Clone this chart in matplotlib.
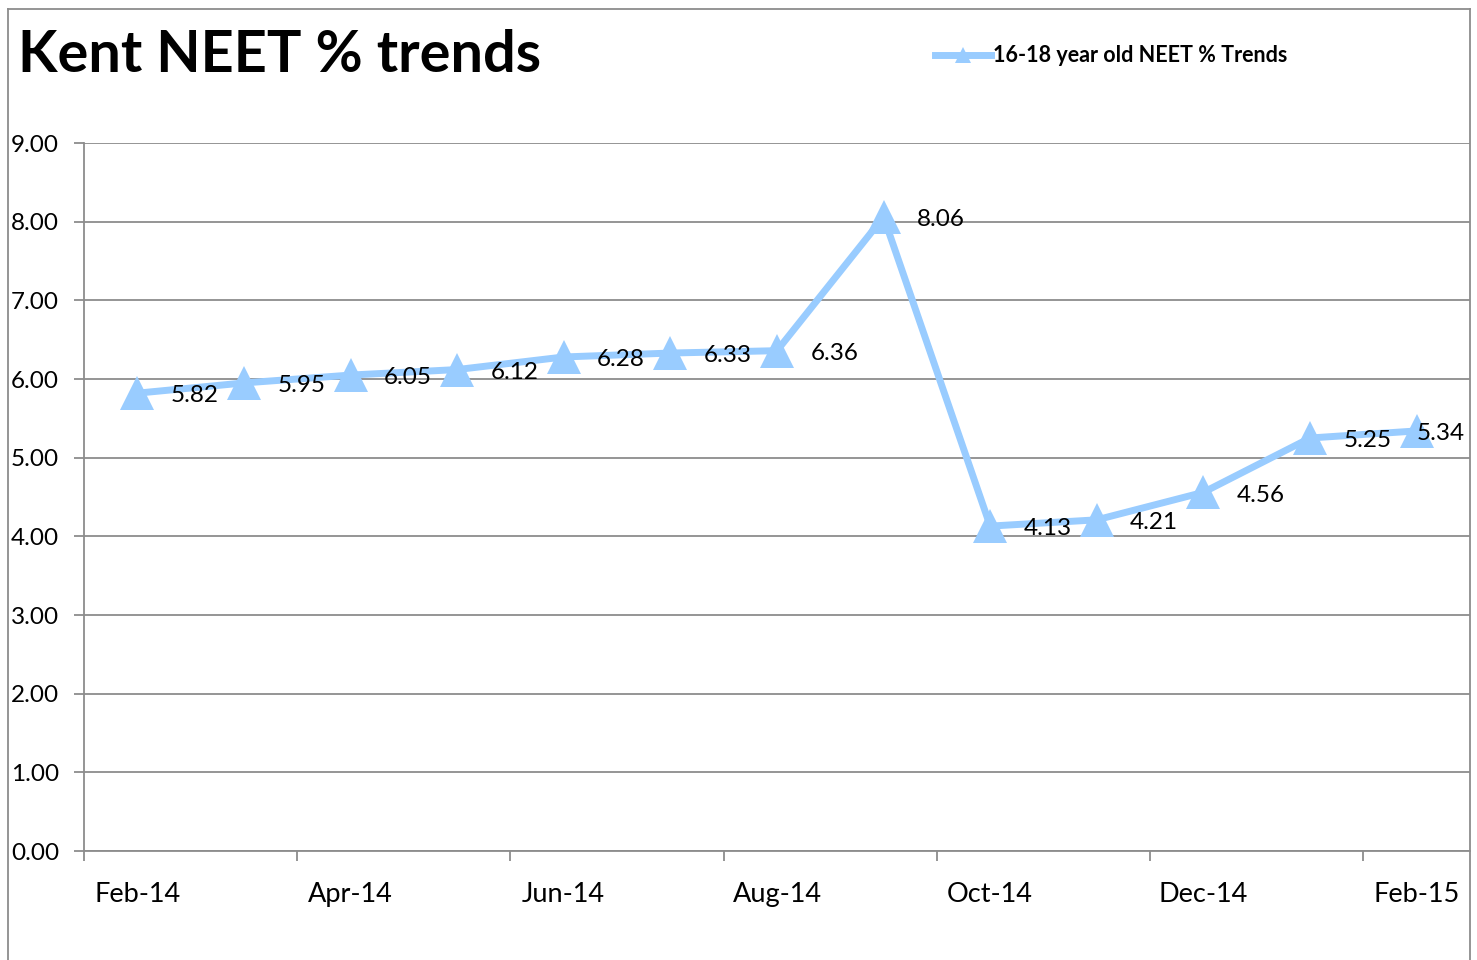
import matplotlib
matplotlib.use("Agg")
import matplotlib.pyplot as plt
from matplotlib.lines import Line2D

months = ["Feb-14", "Mar-14", "Apr-14", "May-14", "Jun-14", "Jul-14", "Aug-14",
          "Sep-14", "Oct-14", "Nov-14", "Dec-14", "Jan-15", "Feb-15"]
values = [5.82, 5.95, 6.05, 6.12, 6.28, 6.33, 6.36, 8.06, 4.13, 4.21, 4.56, 5.25, 5.34]
series_name = "16-18 year old NEET % Trends"
title = "Kent NEET % trends"
yticks = [0, 1, 2, 3, 4, 5, 6, 7, 8, 9]

plt.rcParams['font.family'] = ['Lato', 'DejaVu Sans']
W, H = 1477, 960
fig = plt.figure(figsize=(W / 100, H / 100), dpi=100)
ax = fig.add_axes([84 / W, (H - 851) / H, (1470 - 84) / W, (851 - 143) / H])

color = "#99CCFF"
x = list(range(len(months)))
ax.plot(x, values, color=color, lw=5, marker="^", markersize=24,
        markeredgewidth=0, solid_capstyle="round", label=series_name, zorder=3)

for i, v in enumerate(values):
    off = 24 if i < len(values) - 1 else 0
    ax.annotate(f"{v:.2f}", (i, v), xytext=(off, -2), textcoords="offset points",
                ha="left", va="center", fontsize=17.5, color="black", zorder=4)

ax.set_xlim(-0.5, len(months) - 0.5)
ax.set_ylim(0, 9)
ax.set_yticks(yticks)
ax.set_yticklabels([f"{t:.2f}" for t in yticks], fontsize=17.5)
ax.yaxis.grid(True, color="#8c8c8c", lw=1.3)
ax.set_axisbelow(True)

major = [i - 0.5 for i in range(0, len(months), 2)]
ax.set_xticks(major)
ax.set_xticklabels([])
ax.set_xticks(list(range(0, len(months), 2)), minor=True)
ax.set_xticklabels([months[i] for i in range(0, len(months), 2)], minor=True, fontsize=19.5)
ax.tick_params(axis="x", which="minor", length=0, pad=22.5)
ax.tick_params(axis="x", which="major", length=7, width=1.3, color="#8c8c8c", direction="out")
ax.tick_params(axis="y", length=7, width=1.3, color="#8c8c8c", pad=11)

for s in ["top", "right"]:
    ax.spines[s].set_visible(False)
for s in ["left", "bottom"]:
    ax.spines[s].set_color("#8c8c8c")
    ax.spines[s].set_linewidth(1.3)

fig.text(18 / W, 1 - 56 / H, title, fontsize=41.5, fontweight="bold", va="center", ha="left")

handle = Line2D([], [], color=color, lw=5, marker="^", markersize=11, markeredgewidth=0)
fig.legend([handle], [series_name], loc="center left",
           bbox_to_anchor=(916 / W, 1 - 56 / H), frameon=False,
           handlelength=2.6, handletextpad=0.1, prop={"size": 15.5, "weight": "bold"})

frame_col = "#8c8c8c"
fig.add_artist(Line2D([8 / W, 8 / W], [0, 1 - 9 / H], transform=fig.transFigure, color=frame_col, lw=1.3))
fig.add_artist(Line2D([8 / W, 1470 / W], [1 - 9 / H, 1 - 9 / H], transform=fig.transFigure, color=frame_col, lw=1.3))
fig.add_artist(Line2D([1470 / W, 1470 / W], [0, 1 - 9 / H], transform=fig.transFigure, color=frame_col, lw=1.3))

fig.savefig("out.png", dpi=100)
